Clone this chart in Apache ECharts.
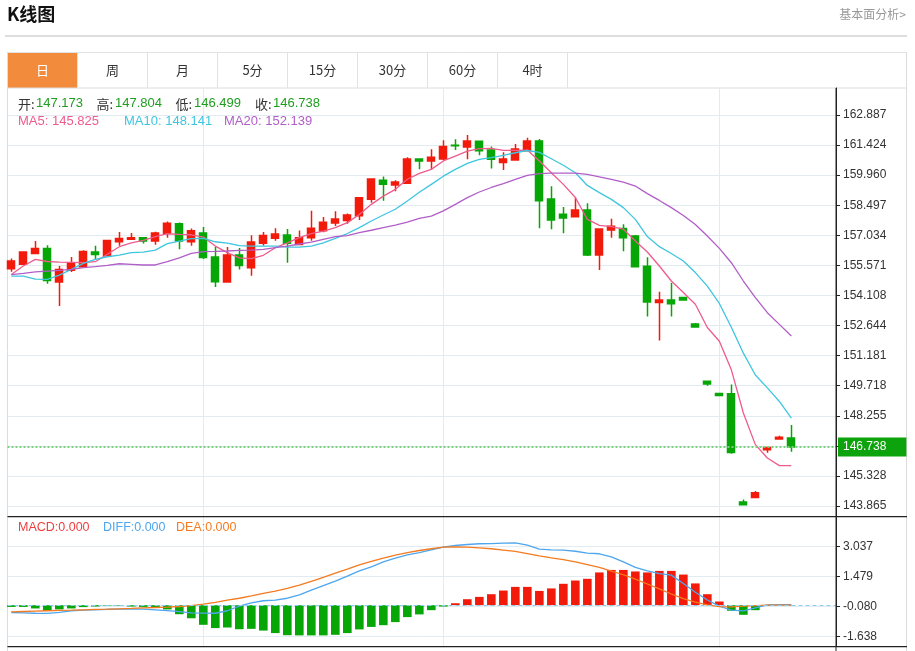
<!DOCTYPE html>
<html>
<head>
<meta charset="utf-8">
<script src="https://cdn.jsdelivr.net/npm/echarts@6/dist/echarts.min.js"></script>
<style>
html,body{margin:0;padding:0;background:#fff;}
#c{width:915px;height:651px;}
</style>
</head>
<body>
<div id="c"></div>
<script>
// ---- data ----
const opens  = [155.41,155.62,156.15,156.39,154.76,155.33,155.51,156.22,156.04,156.72,156.84,156.91,156.76,157.12,157.60,156.72,157.14,155.98,154.76,156.07,155.46,156.65,156.89,157.05,156.59,156.92,157.25,157.63,157.76,157.99,158.79,159.71,159.48,159.57,160.75,160.65,160.75,161.42,161.33,161.61,161.18,160.57,160.70,161.15,161.62,158.80,158.06,157.94,158.27,156.08,157.29,157.36,157.00,155.53,153.76,153.89,154.01,152.72,149.93,149.34,149.32,144.06,144.28,146.60,147.13,147.173];
const closes = [155.78,156.22,156.39,154.84,155.37,155.70,156.25,156.10,156.78,156.88,156.92,156.76,157.14,157.62,156.76,157.25,155.95,154.78,156.07,155.57,156.71,157.03,157.10,156.65,156.92,157.38,157.67,157.83,158.02,158.86,159.77,159.52,159.63,160.75,160.65,160.83,161.36,161.39,161.62,161.15,160.73,160.75,161.23,161.62,158.72,157.78,157.88,158.27,156.08,157.34,157.47,156.92,155.51,153.79,153.89,153.70,153.89,152.57,149.80,149.24,146.47,143.93,144.51,146.71,147.21,146.738];
const lows   = [155.26,155.60,156.12,154.68,153.60,155.25,155.47,155.84,156.03,156.52,156.83,156.63,156.57,156.92,156.36,156.53,155.88,154.52,154.74,155.37,155.07,156.53,156.77,155.70,156.57,156.77,157.18,157.49,157.60,157.78,158.62,158.72,159.18,159.55,160.25,160.25,160.68,161.18,160.73,160.93,160.28,160.21,160.68,161.13,157.38,157.33,157.13,157.92,156.03,155.35,156.92,156.26,155.49,153.08,151.91,153.08,153.87,152.55,149.72,149.22,146.41,143.91,144.24,146.46,147.12,146.499];
const highs  = [155.90,156.25,156.76,156.55,155.54,155.98,156.31,156.52,156.80,157.19,157.14,156.92,157.21,157.71,157.66,157.36,157.44,156.46,156.47,156.42,157.04,157.19,157.38,157.34,157.27,158.23,157.93,158.20,158.09,158.90,159.79,159.89,159.71,160.83,160.78,161.22,161.66,161.71,161.91,161.64,161.35,161.07,161.48,161.78,161.72,159.42,158.41,158.86,158.59,157.38,157.84,157.57,157.05,155.97,154.29,154.73,154.05,152.77,149.96,149.36,149.77,144.18,144.60,146.74,147.28,147.804];

const ma5  = [155.13,155.54,155.86,155.76,155.73,155.72,155.70,155.75,156.11,156.48,156.67,156.79,156.97,157.11,157.08,157.06,156.95,156.51,156.19,155.94,155.90,156.06,156.43,156.67,156.92,157.12,157.24,157.41,157.65,158.05,158.54,158.94,159.27,159.76,160.05,160.24,160.65,160.89,161.13,161.25,161.26,161.17,161.17,161.18,160.65,160.08,159.51,158.87,157.81,157.52,157.46,157.33,156.76,156.22,155.54,154.81,154.25,153.68,152.55,151.88,150.49,148.39,146.85,146.20,145.83,145.825];
const ma10 = [155.05,155.05,154.90,154.89,155.10,155.38,155.67,155.86,155.99,156.07,156.19,156.22,156.31,156.63,156.75,156.87,156.88,156.72,156.65,156.53,156.51,156.51,156.51,156.46,156.46,156.51,156.67,156.88,157.12,157.41,157.73,158.02,158.30,158.70,159.13,159.51,159.91,160.24,160.53,160.73,160.81,160.92,161.05,161.16,161.07,160.76,160.44,160.08,159.46,159.11,158.78,158.38,157.81,156.97,156.48,156.15,155.78,155.22,154.56,153.72,152.56,151.30,150.24,149.61,148.95,148.141];
const ma20 = [155.12,155.18,155.25,155.29,155.33,155.38,155.46,155.51,155.57,155.65,155.62,155.59,155.59,155.75,155.94,156.15,156.24,156.25,156.27,156.30,156.31,156.35,156.43,156.51,156.61,156.70,156.84,156.97,157.02,157.16,157.28,157.41,157.53,157.68,157.86,157.97,158.22,158.54,158.87,159.14,159.36,159.55,159.76,159.95,160.03,160.06,160.06,160.06,160.00,159.88,159.75,159.62,159.43,159.06,158.73,158.38,158.00,157.56,157.00,156.40,155.70,154.81,154.00,153.27,152.70,152.139];

const macdHist = [-0.09,-0.09,-0.17,-0.29,-0.22,-0.17,-0.10,-0.07,-0.03,-0.03,-0.07,-0.09,-0.12,-0.22,-0.47,-0.68,-1.02,-1.19,-1.16,-1.25,-1.23,-1.32,-1.45,-1.56,-1.57,-1.57,-1.57,-1.54,-1.45,-1.26,-1.13,-1.04,-0.88,-0.62,-0.48,-0.26,-0.07,0.10,0.31,0.43,0.57,0.76,0.95,0.95,0.74,0.87,1.11,1.28,1.37,1.70,1.83,1.83,1.75,1.70,1.78,1.78,1.59,1.13,0.57,0.19,-0.29,-0.50,-0.26,-0.02,0.01,0.01];
const diffLine = [-0.38,-0.40,-0.42,-0.43,-0.37,-0.30,-0.26,-0.24,-0.22,-0.21,-0.21,-0.21,-0.24,-0.28,-0.34,-0.40,-0.41,-0.42,-0.29,-0.05,0.12,0.23,0.26,0.36,0.54,0.78,1.02,1.25,1.51,1.78,1.99,2.25,2.44,2.61,2.73,2.87,3.01,3.10,3.15,3.19,3.20,3.22,3.24,3.12,2.91,2.87,2.86,2.80,2.70,2.67,2.51,2.25,1.96,1.78,1.64,1.56,1.13,0.67,0.27,-0.05,-0.26,-0.30,-0.14,0.01,0.03,0.03];
const deaLine = [-0.35,-0.33,-0.31,-0.29,-0.27,-0.26,-0.24,-0.22,-0.21,-0.19,-0.17,-0.14,-0.12,-0.10,-0.07,-0.02,0.05,0.14,0.26,0.36,0.48,0.61,0.73,0.87,1.04,1.23,1.44,1.66,1.87,2.09,2.27,2.44,2.60,2.73,2.84,2.93,3.01,3.03,3.01,2.98,2.93,2.86,2.79,2.68,2.56,2.46,2.37,2.25,2.11,1.96,1.77,1.58,1.35,1.10,0.85,0.58,0.34,0.16,0.02,-0.08,-0.09,-0.05,-0.02,0.00,0.00,0.00];

const priceTicks = [143.865,145.328,146.792,148.255,149.718,151.181,152.644,154.108,155.571,157.034,158.497,159.960,161.424,162.887];
const priceLabels = [143.865,145.328,148.255,149.718,151.181,152.644,154.108,155.571,157.034,158.497,159.960,161.424,162.887];
const macdTicks = [-1.638,-0.080,1.479,3.037];
const monthStarts = [16,36,59];
const tabs = ['日','周','月','5分','15分','30分','60分','4时'];
const macdLegend = ['MACD:0.000','DIFF:0.000','DEA:0.000'];

// ---- build ----
const last = opens.length - 1;
const FONT = 'Arial, "Liberation Sans", "Noto Sans CJK SC", sans-serif';
const CJK = '"Noto Sans CJK SC", "Microsoft YaHei", sans-serif';
const UP = '#f21b0b', DOWN = '#06a606';
const C5 = '#ee5b8c', C10 = '#3ec6df', C20 = '#b25ec8';
const GRIDC = '#e2ebf2';

const candleData = opens.map((o,i)=>[i, o, closes[i], lows[i], highs[i]]);
const pts = arr => arr.map((v,i)=>[i,v]);

const graphics = [];
// header
graphics.push({type:'text', left:7, top:5, style:{text:'K线图', font:'bold 18px ' + CJK, fill:'#111'}});
graphics.push({type:'text', x:906, y:14, style:{text:'基本面分析>', font:'12px ' + CJK, fill:'#999', textAlign:'right', textVerticalAlign:'middle'}});
graphics.push({type:'line', shape:{x1:5,y1:36,x2:907,y2:36}, style:{stroke:'#d3d3d3', lineWidth:1.5}});
// tabs
graphics.push({type:'rect', shape:{x:7.5,y:52,width:70,height:36}, style:{fill:'#f38b3d'}});
graphics.push({type:'line', shape:{x1:7.5,y1:52.5,x2:907,y2:52.5}, style:{stroke:'#e2e2e2', lineWidth:1}});
graphics.push({type:'line', shape:{x1:7.5,y1:88,x2:907,y2:88}, style:{stroke:'#dcdcdc', lineWidth:1}});
for (let k=1;k<=tabs.length;k++){
  const x = 7.5 + 70*k;
  graphics.push({type:'line', shape:{x1:x,y1:52,x2:x,y2:88}, style:{stroke:'#e2e2e2', lineWidth:1}});
}
tabs.forEach((t,k)=>{
  graphics.push({type:'text', x:42.5+70*k, y:70, style:{text:t, font:'13px ' + CJK, fill:k===0?'#fff':'#333', textAlign:'center', textVerticalAlign:'middle'}});
});
// frame
graphics.push({type:'line', shape:{x1:7.5,y1:52,x2:7.5,y2:651}, style:{stroke:'#dcdcdc', lineWidth:1}});
graphics.push({type:'line', shape:{x1:906.5,y1:52,x2:906.5,y2:651}, style:{stroke:'#dcdcdc', lineWidth:1}});
graphics.push({type:'line', shape:{x1:7.5,y1:516.7,x2:907,y2:516.7}, style:{stroke:'#222', lineWidth:1.2}, z:50});
graphics.push({type:'line', shape:{x1:7.5,y1:646.7,x2:907,y2:646.7}, style:{stroke:'#222', lineWidth:1.2}, z:50});
graphics.push({type:'line', shape:{x1:836,y1:88,x2:836,y2:651}, style:{stroke:'#222', lineWidth:1}, z:50});

// legend (OHLC)
const ohlc = [['开:', opens[last], 18, 36], ['高:', highs[last], 96.5, 115], ['低:', lows[last], 175.5, 194], ['收:', closes[last], 255, 273]];
ohlc.forEach(([lab,val,x1,x2])=>{
  graphics.push({type:'text', x:x1, y:103.7, style:{text:lab, font:'13px ' + CJK, fill:'#333', textVerticalAlign:'middle'}, z:60});
  graphics.push({type:'text', x:x2, y:103.7, style:{text:val.toFixed(3), font:'13px ' + FONT, fill:'#1f9d1f', textVerticalAlign:'middle'}, z:60});
});
const maLeg = [['MA5: ' + ma5[last].toFixed(3), C5, 18], ['MA10: ' + ma10[last].toFixed(3), C10, 124], ['MA20: ' + ma20[last].toFixed(3), C20, 224]];
maLeg.forEach(([t,c,x])=>{
  graphics.push({type:'text', x:x, y:121.5, style:{text:t, font:'13px ' + FONT, fill:c, textVerticalAlign:'middle'}, z:60});
});
const macdColors = ['#ee3f3f','#4ea6ee','#f47b20'];
const macdX = [18, 103, 176];
macdLegend.forEach((t,i)=>{
  graphics.push({type:'text', x:macdX[i], y:527.7, style:{text:t, font:'12.5px ' + FONT, fill:macdColors[i], textVerticalAlign:'middle'}, z:60});
});

const xAxisCommon = {
  type:'value', min:-0.317, max:68.72,
  axisLine:{show:false, onZero:false}, axisLabel:{show:false},
  axisTick:{show:false, customValues: monthStarts},
  splitLine:{show:true, lineStyle:{color:GRIDC, width:1}}
};

const option = {
  animation:false,
  backgroundColor:'#fff',
  grid:[
    {left:7.5, right:79, top:88, height:428.7},
    {left:7.5, right:79, top:516.7, height:130}
  ],
  xAxis:[
    Object.assign({gridIndex:0}, xAxisCommon),
    Object.assign({gridIndex:1}, xAxisCommon)
  ],
  yAxis:[
    {
      gridIndex:0, type:'value', position:'right', min:143.344, max:164.200,
      axisLine:{show:true, onZero:false, lineStyle:{color:'#222'}},
      axisTick:{show:true, length:4, lineStyle:{color:'#222'}, customValues: priceTicks},
      axisLabel:{show:true, margin:7, color:'#333', fontSize:12, fontFamily:FONT, customValues: priceLabels, formatter:v=>Number(v).toFixed(3)},
      splitLine:{show:true, lineStyle:{color:GRIDC, width:1}}
    },
    {
      gridIndex:1, type:'value', position:'right', min:-2.157, max:4.595,
      axisLine:{show:true, onZero:false, lineStyle:{color:'#222'}},
      axisTick:{show:true, length:4, lineStyle:{color:'#222'}, customValues: macdTicks},
      axisLabel:{show:true, margin:7, color:'#333', fontSize:12, fontFamily:FONT, customValues: macdTicks, formatter:v=>Number(v).toFixed(3)},
      splitLine:{show:true, lineStyle:{color:GRIDC, width:1}}
    }
  ],
  series:[
    {
      type:'candlestick', xAxisIndex:0, yAxisIndex:0, data:candleData, barWidth:7.5, z:2,
      encode:{x:0, y:[1,2,3,4]},
      itemStyle:{color:UP, color0:DOWN, borderColor:UP, borderColor0:DOWN, borderWidth:1.5},
      markLine:{
        silent:true, symbol:['none','none'], animation:false,
        data:[{yAxis:closes[last]}],
        lineStyle:{color:'#7ccf7c', type:[2,2], width:2},
        label:{show:true, position:'end', distance:2, formatter:closes[last].toFixed(3), color:'#fff', backgroundColor:'#0ca30c', padding:[4,20,3,5], fontSize:12, fontFamily:FONT}
      }
    },
    {type:'line', xAxisIndex:0, yAxisIndex:0, data:pts(ma5), showSymbol:false, symbol:'none', z:3, lineStyle:{color:C5, width:1.3}, itemStyle:{color:C5}},
    {type:'line', xAxisIndex:0, yAxisIndex:0, data:pts(ma10), showSymbol:false, symbol:'none', z:3, lineStyle:{color:C10, width:1.3}, itemStyle:{color:C10}},
    {type:'line', xAxisIndex:0, yAxisIndex:0, data:pts(ma20), showSymbol:false, symbol:'none', z:3, lineStyle:{color:C20, width:1.3}, itemStyle:{color:C20}},
    {
      type:'bar', xAxisIndex:1, yAxisIndex:1, barWidth:8.6, z:2,
      data: macdHist.map((v,i)=>({value:[i,v], itemStyle:{color: v>=0 ? '#f21a0a' : '#06a606'}})),
      markLine:{
        silent:true, symbol:['none','none'], animation:false,
        data:[{yAxis:0}],
        lineStyle:{color:'#8dcfea', type:[4,3], width:1.2},
        label:{show:false}
      }
    },
    {type:'line', xAxisIndex:1, yAxisIndex:1, data:pts(diffLine), showSymbol:false, symbol:'none', z:3, lineStyle:{color:'#4ea6ee', width:1.3}},
    {type:'line', xAxisIndex:1, yAxisIndex:1, data:pts(deaLine), showSymbol:false, symbol:'none', z:3, lineStyle:{color:'#f47b20', width:1.3}}
  ],
  graphic: graphics
};

const chart = echarts.init(document.getElementById('c'), null, {renderer:'canvas', width:915, height:651});
chart.setOption(option);
</script>
</body>
</html>
